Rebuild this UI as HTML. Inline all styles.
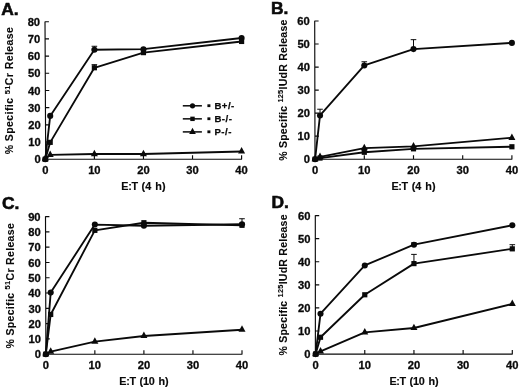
<!DOCTYPE html>
<html lang="en"><head><meta charset="utf-8"><title>Figure</title>
<style>
html,body{margin:0;padding:0;background:#fff;}
body{width:520px;height:389px;overflow:hidden;}
svg{display:block;}
text{font-family:"Liberation Sans",sans-serif;fill:#0a0a0a;}
.tk{font-size:11.2px;font-weight:bold;stroke:#0a0a0a;stroke-width:0.3px;}
.xl{font-size:10.8px;font-weight:bold;letter-spacing:0.05px;word-spacing:0.9px;stroke:#0a0a0a;stroke-width:0.15px;}
.yl{font-size:10.5px;font-weight:bold;stroke:#0a0a0a;stroke-width:0.1px;}
.lt{font-size:17.4px;font-weight:bold;stroke:#0a0a0a;stroke-width:0.6px;}
.lg{font-size:9.6px;font-weight:bold;letter-spacing:0.5px;stroke:#0a0a0a;stroke-width:0.25px;}
</style></head><body>
<svg width="520" height="389" viewBox="0 0 520 389">
<rect width="520" height="389" fill="#fff"/>

<g id="panelA">
<path d="M45.00 21.40 L45.70 159.20 H242.00 M45.70 159.20 h3.9 M45.61 142.01 h3.9 M45.52 124.82 h3.9 M45.44 107.64 h3.9 M45.35 90.45 h3.9 M45.26 73.26 h3.9 M45.17 56.07 h3.9 M45.09 38.89 h3.9 M45.00 21.70 h3.9 M45.30 159.20 v-4.0 M94.38 159.20 v-4.0 M143.45 159.20 v-4.0 M192.53 159.20 v-4.0 M241.60 159.20 v-4.0" fill="none" stroke="#0a0a0a" stroke-width="1.15"/>
<text class="tk" x="40.80" y="163.40" text-anchor="end">0</text>
<text class="tk" x="40.71" y="146.21" text-anchor="end">10</text>
<text class="tk" x="40.62" y="129.02" text-anchor="end">20</text>
<text class="tk" x="40.54" y="111.84" text-anchor="end">30</text>
<text class="tk" x="40.45" y="94.65" text-anchor="end">40</text>
<text class="tk" x="40.36" y="77.46" text-anchor="end">50</text>
<text class="tk" x="40.27" y="60.27" text-anchor="end">60</text>
<text class="tk" x="40.19" y="43.09" text-anchor="end">70</text>
<text class="tk" x="40.10" y="25.90" text-anchor="end">80</text>
<text class="tk" x="45.30" y="174.40" text-anchor="middle">0</text>
<text class="tk" x="94.38" y="174.40" text-anchor="middle">10</text>
<text class="tk" x="143.45" y="174.40" text-anchor="middle">20</text>
<text class="tk" x="192.53" y="174.40" text-anchor="middle">30</text>
<text class="tk" x="241.60" y="174.40" text-anchor="middle">40</text>
<text class="xl" style="letter-spacing:0.05px" x="143.45" y="190.00" text-anchor="middle"><tspan style="letter-spacing:-0.35px">E:T</tspan> (4 h)</text>
<text class="yl" style="letter-spacing:0.42px" transform="translate(13.30 90.50) rotate(-90)" text-anchor="middle">% Specific <tspan font-size="7.4px" dy="-3.6">51</tspan><tspan dy="3.6">Cr Release</tspan></text>
<text class="lt" x="1.3" y="14.9">A.</text>
<path d="M94.38 49.72 V46.28 M91.58 46.28 h5.6" stroke="#0a0a0a" stroke-width="1" fill="none"/>
<path d="M94.38 67.76 V64.67 M91.58 64.67 h5.6" stroke="#0a0a0a" stroke-width="1" fill="none"/>
<polyline points="45.30,159.20 50.21,115.89 94.38,49.72 143.45,49.20 241.60,38.03" fill="none" stroke="#0a0a0a" stroke-width="1.85" stroke-linejoin="round"/>
<g fill="#0a0a0a"><circle cx="45.30" cy="159.20" r="3.05"/><circle cx="50.21" cy="115.89" r="3.05"/><circle cx="94.38" cy="49.72" r="3.05"/><circle cx="143.45" cy="49.20" r="3.05"/><circle cx="241.60" cy="38.03" r="3.05"/></g>
<polyline points="45.30,159.20 50.21,142.36 94.38,67.76 143.45,52.64 241.60,41.47" fill="none" stroke="#0a0a0a" stroke-width="1.85" stroke-linejoin="round"/>
<g fill="#0a0a0a"><rect x="42.71" y="156.61" width="5.18" height="5.18"/><rect x="47.61" y="139.76" width="5.18" height="5.18"/><rect x="91.78" y="65.17" width="5.18" height="5.18"/><rect x="140.86" y="50.04" width="5.18" height="5.18"/><rect x="239.01" y="38.87" width="5.18" height="5.18"/></g>
<polyline points="45.30,159.20 50.21,154.90 94.38,154.04 143.45,154.04 241.60,151.47" fill="none" stroke="#0a0a0a" stroke-width="1.85" stroke-linejoin="round"/>
<g fill="#0a0a0a"><path d="M45.30 154.82 L48.81 161.30 L41.79 161.30 Z"/><path d="M50.21 150.52 L53.71 157.01 L46.70 157.01 Z"/><path d="M94.38 149.66 L97.88 156.15 L90.87 156.15 Z"/><path d="M143.45 149.66 L146.96 156.15 L139.94 156.15 Z"/><path d="M241.60 147.08 L245.11 153.57 L238.09 153.57 Z"/></g>
</g>
<g id="panelB">
<path d="M314.70 20.70 L315.00 159.20 H512.30 M315.00 159.20 h3.9 M314.95 136.17 h3.9 M314.90 113.13 h3.9 M314.85 90.10 h3.9 M314.80 67.07 h3.9 M314.75 44.03 h3.9 M314.70 21.00 h3.9 M315.10 159.20 v-4.0 M364.30 159.20 v-4.0 M413.50 159.20 v-4.0 M462.70 159.20 v-4.0 M511.90 159.20 v-4.0" fill="none" stroke="#0a0a0a" stroke-width="1.15"/>
<text class="tk" x="310.10" y="163.40" text-anchor="end">0</text>
<text class="tk" x="310.05" y="140.37" text-anchor="end">10</text>
<text class="tk" x="310.00" y="117.33" text-anchor="end">20</text>
<text class="tk" x="309.95" y="94.30" text-anchor="end">30</text>
<text class="tk" x="309.90" y="71.27" text-anchor="end">40</text>
<text class="tk" x="309.85" y="48.23" text-anchor="end">50</text>
<text class="tk" x="309.80" y="25.20" text-anchor="end">60</text>
<text class="tk" x="315.10" y="174.00" text-anchor="middle">0</text>
<text class="tk" x="364.30" y="174.00" text-anchor="middle">10</text>
<text class="tk" x="413.50" y="174.00" text-anchor="middle">20</text>
<text class="tk" x="462.70" y="174.00" text-anchor="middle">30</text>
<text class="tk" x="511.90" y="174.00" text-anchor="middle">40</text>
<text class="xl" style="letter-spacing:0.05px" x="413.50" y="189.90" text-anchor="middle"><tspan style="letter-spacing:-0.35px">E:T</tspan> (4 h)</text>
<text class="yl" style="letter-spacing:0.25px" transform="translate(287.00 90.10) rotate(-90)" text-anchor="middle">% Specific <tspan font-size="7.4px" dy="-3.6">125</tspan><tspan dy="3.6">IUdR Release</tspan></text>
<text class="lt" x="271" y="14.2">B.</text>
<path d="M320.02 115.44 V109.22 M317.22 109.22 h5.6" stroke="#0a0a0a" stroke-width="1" fill="none"/>
<path d="M364.30 65.45 V61.77 M361.50 61.77 h5.6" stroke="#0a0a0a" stroke-width="1" fill="none"/>
<path d="M413.50 49.10 V39.66 M410.70 39.66 h5.6" stroke="#0a0a0a" stroke-width="1" fill="none"/>
<polyline points="315.10,159.20 320.02,115.44 364.30,65.45 413.50,49.10 511.90,42.88" fill="none" stroke="#0a0a0a" stroke-width="1.85" stroke-linejoin="round"/>
<g fill="#0a0a0a"><circle cx="315.10" cy="159.20" r="3.05"/><circle cx="320.02" cy="115.44" r="3.05"/><circle cx="364.30" cy="65.45" r="3.05"/><circle cx="413.50" cy="49.10" r="3.05"/><circle cx="511.90" cy="42.88" r="3.05"/></g>
<polyline points="315.10,159.20 320.02,156.90 364.30,148.14 413.50,146.30 511.90,137.78" fill="none" stroke="#0a0a0a" stroke-width="1.85" stroke-linejoin="round"/>
<g fill="#0a0a0a"><path d="M315.10 154.82 L318.61 161.30 L311.59 161.30 Z"/><path d="M320.02 152.51 L323.53 159.00 L316.51 159.00 Z"/><path d="M364.30 143.76 L367.81 150.25 L360.79 150.25 Z"/><path d="M413.50 141.92 L417.01 148.41 L409.99 148.41 Z"/><path d="M511.90 133.39 L515.41 139.88 L508.39 139.88 Z"/></g>
<polyline points="315.10,159.20 320.02,158.05 364.30,152.29 413.50,148.83 511.90,146.76" fill="none" stroke="#0a0a0a" stroke-width="1.85" stroke-linejoin="round"/>
<g fill="#0a0a0a"><rect x="312.51" y="156.61" width="5.18" height="5.18"/><rect x="317.43" y="155.46" width="5.18" height="5.18"/><rect x="361.71" y="149.70" width="5.18" height="5.18"/><rect x="410.91" y="146.24" width="5.18" height="5.18"/><rect x="509.31" y="144.17" width="5.18" height="5.18"/></g>
</g>
<g id="panelC">
<path d="M45.50 216.30 L45.90 354.20 H242.40 M45.90 354.20 h3.9 M45.86 338.91 h3.9 M45.81 323.62 h3.9 M45.77 308.33 h3.9 M45.72 293.04 h3.9 M45.68 277.76 h3.9 M45.63 262.47 h3.9 M45.59 247.18 h3.9 M45.54 231.89 h3.9 M45.50 216.60 h3.9 M45.80 354.20 v-4.0 M94.85 354.20 v-4.0 M143.90 354.20 v-4.0 M192.95 354.20 v-4.0 M242.00 354.20 v-4.0" fill="none" stroke="#0a0a0a" stroke-width="1.15"/>
<text class="tk" x="41.00" y="358.40" text-anchor="end">0</text>
<text class="tk" x="40.96" y="343.11" text-anchor="end">10</text>
<text class="tk" x="40.91" y="327.82" text-anchor="end">20</text>
<text class="tk" x="40.87" y="312.53" text-anchor="end">30</text>
<text class="tk" x="40.82" y="297.24" text-anchor="end">40</text>
<text class="tk" x="40.78" y="281.96" text-anchor="end">50</text>
<text class="tk" x="40.73" y="266.67" text-anchor="end">60</text>
<text class="tk" x="40.69" y="251.38" text-anchor="end">70</text>
<text class="tk" x="40.64" y="236.09" text-anchor="end">80</text>
<text class="tk" x="40.60" y="220.80" text-anchor="end">90</text>
<text class="tk" x="45.80" y="369.00" text-anchor="middle">0</text>
<text class="tk" x="94.85" y="369.00" text-anchor="middle">10</text>
<text class="tk" x="143.90" y="369.00" text-anchor="middle">20</text>
<text class="tk" x="192.95" y="369.00" text-anchor="middle">30</text>
<text class="tk" x="242.00" y="369.00" text-anchor="middle">40</text>
<text class="xl" style="letter-spacing:-0.12px" x="143.90" y="385.10" text-anchor="middle"><tspan style="letter-spacing:-0.35px">E:T</tspan> (10 h)</text>
<text class="yl" style="letter-spacing:0.33px" transform="translate(14.00 285.70) rotate(-90)" text-anchor="middle">% Specific <tspan font-size="7.4px" dy="-3.6">51</tspan><tspan dy="3.6">Cr Release</tspan></text>
<text class="lt" x="2" y="208.9">C.</text>
<path d="M242.00 224.24 V218.74 M239.20 218.74 h5.6" stroke="#0a0a0a" stroke-width="1" fill="none"/>
<polyline points="45.80,354.20 50.70,292.59 94.85,224.55 143.90,225.77 242.00,224.24" fill="none" stroke="#0a0a0a" stroke-width="1.85" stroke-linejoin="round"/>
<g fill="#0a0a0a"><circle cx="45.80" cy="354.20" r="3.05"/><circle cx="50.70" cy="292.59" r="3.05"/><circle cx="94.85" cy="224.55" r="3.05"/><circle cx="143.90" cy="225.77" r="3.05"/><circle cx="242.00" cy="224.24" r="3.05"/></g>
<polyline points="45.80,354.20 50.70,314.45 94.85,230.36 143.90,222.72 242.00,225.31" fill="none" stroke="#0a0a0a" stroke-width="1.85" stroke-linejoin="round"/>
<g fill="#0a0a0a"><rect x="43.21" y="351.61" width="5.18" height="5.18"/><rect x="48.11" y="311.86" width="5.18" height="5.18"/><rect x="92.26" y="227.77" width="5.18" height="5.18"/><rect x="141.31" y="220.12" width="5.18" height="5.18"/><rect x="239.41" y="222.72" width="5.18" height="5.18"/></g>
<polyline points="45.80,354.20 50.70,351.60 94.85,341.66 143.90,336.01 242.00,329.74" fill="none" stroke="#0a0a0a" stroke-width="1.85" stroke-linejoin="round"/>
<g fill="#0a0a0a"><path d="M45.80 349.82 L49.31 356.30 L42.29 356.30 Z"/><path d="M50.70 347.22 L54.21 353.71 L47.20 353.71 Z"/><path d="M94.85 337.28 L98.36 343.77 L91.34 343.77 Z"/><path d="M143.90 331.62 L147.41 338.11 L140.39 338.11 Z"/><path d="M242.00 325.35 L245.51 331.84 L238.49 331.84 Z"/></g>
</g>
<g id="panelD">
<path d="M315.30 215.30 L315.40 354.10 H512.70 M315.40 354.10 h3.9 M315.38 331.02 h3.9 M315.37 307.93 h3.9 M315.35 284.85 h3.9 M315.33 261.77 h3.9 M315.32 238.68 h3.9 M315.30 215.60 h3.9 M315.60 354.10 v-4.0 M364.77 354.10 v-4.0 M413.95 354.10 v-4.0 M463.12 354.10 v-4.0 M512.30 354.10 v-4.0" fill="none" stroke="#0a0a0a" stroke-width="1.15"/>
<text class="tk" x="310.50" y="358.30" text-anchor="end">0</text>
<text class="tk" x="310.48" y="335.22" text-anchor="end">10</text>
<text class="tk" x="310.47" y="312.13" text-anchor="end">20</text>
<text class="tk" x="310.45" y="289.05" text-anchor="end">30</text>
<text class="tk" x="310.43" y="265.97" text-anchor="end">40</text>
<text class="tk" x="310.42" y="242.88" text-anchor="end">50</text>
<text class="tk" x="310.40" y="219.80" text-anchor="end">60</text>
<text class="tk" x="315.60" y="368.70" text-anchor="middle">0</text>
<text class="tk" x="364.77" y="368.70" text-anchor="middle">10</text>
<text class="tk" x="413.95" y="368.70" text-anchor="middle">20</text>
<text class="tk" x="463.12" y="368.70" text-anchor="middle">30</text>
<text class="tk" x="512.30" y="368.70" text-anchor="middle">40</text>
<text class="xl" style="letter-spacing:-0.12px" x="413.95" y="385.00" text-anchor="middle"><tspan style="letter-spacing:-0.35px">E:T</tspan> (10 h)</text>
<text class="yl" style="letter-spacing:0.25px" transform="translate(287.00 284.90) rotate(-90)" text-anchor="middle">% Specific <tspan font-size="7.4px" dy="-3.6">125</tspan><tspan dy="3.6">IUdR Release</tspan></text>
<text class="lt" x="271.5" y="208.2">D.</text>
<path d="M413.95 263.61 V254.38 M411.15 254.38 h5.6" stroke="#0a0a0a" stroke-width="1" fill="none"/>
<path d="M512.30 248.84 V244.69 M509.50 244.69 h5.6" stroke="#0a0a0a" stroke-width="1" fill="none"/>
<path d="M413.95 244.69 V242.84 M411.15 242.84 h5.6" stroke="#0a0a0a" stroke-width="1" fill="none"/>
<polyline points="315.60,354.10 320.52,313.70 364.77,265.46 413.95,244.69 512.30,225.29" fill="none" stroke="#0a0a0a" stroke-width="1.85" stroke-linejoin="round"/>
<g fill="#0a0a0a"><circle cx="315.60" cy="354.10" r="3.05"/><circle cx="320.52" cy="313.70" r="3.05"/><circle cx="364.77" cy="265.46" r="3.05"/><circle cx="413.95" cy="244.69" r="3.05"/><circle cx="512.30" cy="225.29" r="3.05"/></g>
<polyline points="315.60,354.10 320.52,337.25 364.77,294.78 413.95,263.61 512.30,248.84" fill="none" stroke="#0a0a0a" stroke-width="1.85" stroke-linejoin="round"/>
<g fill="#0a0a0a"><rect x="313.01" y="351.51" width="5.18" height="5.18"/><rect x="317.93" y="334.66" width="5.18" height="5.18"/><rect x="362.18" y="292.18" width="5.18" height="5.18"/><rect x="411.36" y="261.02" width="5.18" height="5.18"/><rect x="509.71" y="246.25" width="5.18" height="5.18"/></g>
<polyline points="315.60,354.10 320.52,351.33 364.77,332.40 413.95,328.02 512.30,304.01" fill="none" stroke="#0a0a0a" stroke-width="1.85" stroke-linejoin="round"/>
<g fill="#0a0a0a"><path d="M315.60 349.72 L319.11 356.20 L312.09 356.20 Z"/><path d="M320.52 346.95 L324.03 353.43 L317.01 353.43 Z"/><path d="M364.77 328.02 L368.28 334.51 L361.27 334.51 Z"/><path d="M413.95 323.63 L417.46 330.12 L410.44 330.12 Z"/><path d="M512.30 299.62 L515.81 306.11 L508.79 306.11 Z"/></g>
</g>
<path d="M182.8 105.80 h19.1" stroke="#0a0a0a" stroke-width="1.5"/>
<g fill="#0a0a0a"><circle cx="192.50" cy="105.80" r="2.60"/></g>
<rect x="207.40" y="104.30" width="3" height="2.8" fill="#0a0a0a"/>
<text class="lg" x="214.40" y="109.20">B+/-</text>
<path d="M182.8 118.85 h19.1" stroke="#0a0a0a" stroke-width="1.5"/>
<g fill="#0a0a0a"><rect x="190.29" y="116.64" width="4.42" height="4.42"/></g>
<rect x="207.40" y="117.35" width="3" height="2.8" fill="#0a0a0a"/>
<text class="lg" x="214.40" y="122.25">B-/-</text>
<path d="M182.8 131.90 h19.1" stroke="#0a0a0a" stroke-width="1.5"/>
<g fill="#0a0a0a"><path d="M192.50 127.73 L195.84 133.90 L189.16 133.90 Z"/></g>
<rect x="207.40" y="130.40" width="3" height="2.8" fill="#0a0a0a"/>
<text class="lg" x="214.40" y="135.30">P-/-</text>
</svg></body></html>
